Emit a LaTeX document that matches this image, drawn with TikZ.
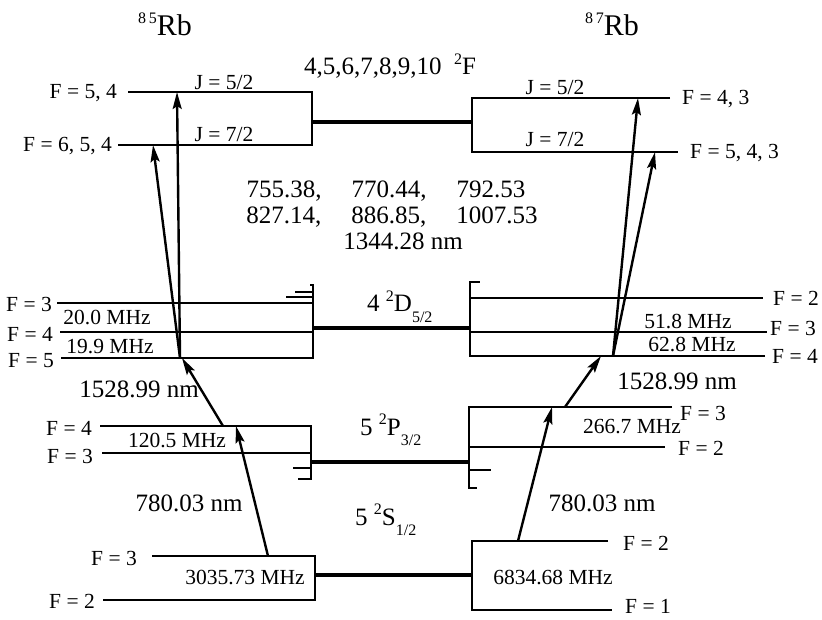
\documentclass[tikz,border=0pt]{standalone}
\usepackage{fontspec}
\setmainfont{Liberation Serif}
\usetikzlibrary{arrows.meta}
\newcommand{\supr}[1]{\raisebox{0.42em}{\fontsize{16}{16}\selectfont #1}}
\newcommand{\subr}[1]{\raisebox{-0.42em}{\fontsize{16}{16}\selectfont #1}}
\begin{document}
\begin{tikzpicture}[x=1pt,y=-1pt,
  lvl/.style={line width=1.4pt},
  thk/.style={line width=3.6pt},
  exc/.style={line width=2.4pt,-{Stealth[length=17pt,width=9pt,inset=3pt]}},
  sm/.style={font=\fontsize{21.5}{24}\selectfont, inner sep=1pt},
  lg/.style={font=\fontsize{25}{28}\selectfont, inner sep=1pt},
  ttl/.style={font=\fontsize{30}{32}\selectfont, inner sep=0pt}]
\useasboundingbox[fill=white] (0,0) rectangle (822,620);

% titles
\node[ttl,anchor=base] (t85) at (165,36) {\supr{8\,5}Rb};
\node[ttl,anchor=base] (t87) at (612,36) {\supr{8\,7}Rb};

% ---------- F levels ----------
\coordinate (a52L) at (128,92);  \coordinate (a52R) at (312,92);
\coordinate (a72L) at (118,145); \coordinate (a72R) at (312,145);
\coordinate (fL) at (312,122);   \coordinate (fR) at (472,122);
\coordinate (b52L) at (472,98);  \coordinate (b52R) at (670,98);
\coordinate (b72L) at (472,152); \coordinate (b72R) at (678,152);
\draw[lvl] (a52L) -- (a52R) -- (a72R) -- (a72L);
\draw[lvl] (b52R) -- (b52L) -- (b72L) -- (b72R);
\draw[thk] (fL) -- (fR);
\node[sm,anchor=east] (la54) at (118,93) {F = 5, 4};
\node[sm,anchor=east] (la654) at (113,146) {F = 6, 5, 4};
\node[sm] (ja52) at (224,82) {J = 5/2};
\node[sm] (ja72) at (224,134) {J = 7/2};
\node[sm,anchor=west] (lb43) at (681,99) {F = 4, 3};
\node[sm,anchor=west] (lb543) at (689,153) {F = 5, 4, 3};
\node[sm] (jb52) at (555,87) {J = 5/2};
\node[sm] (jb72) at (555,139) {J = 7/2};
\node[lg,anchor=base] (fname) at (390,75) {4,5,6,7,8,9,10\hspace{0.5em}\supr{2}F};

% wavelengths
\node[lg,anchor=base] (w1) at (386,198) {755.38,\hspace{1.2em}770.44,\hspace{1.2em}792.53};
\node[lg,anchor=base] (w2) at (392,224) {827.14,\hspace{1.2em}886.85,\hspace{1.2em}1007.53};
\node[lg,anchor=base] (w3) at (403,250) {1344.28 nm};

% ---------- 4 2D5/2 ----------
\coordinate (d3L) at (57,303);  \coordinate (d3R) at (313,303);
\coordinate (d4L) at (60,332);  \coordinate (d4R) at (313,332);
\coordinate (d5L) at (61,358);  \coordinate (d5R) at (313,358);
\coordinate (dTop) at (313,285);
\draw[lvl] (d3L) -- (d3R);
\draw[lvl] (d4L) -- (d4R);
\draw[lvl] (d5L) -- (d5R) -- (dTop) -- ++(-3,0);
\draw[lvl] (295,292) -- (313,292);
\draw[lvl] (286,297) -- (313,297);
\coordinate (e2L) at (470,298); \coordinate (e2R) at (763,298);
\coordinate (e3L) at (470,332); \coordinate (e3R) at (767,332);
\coordinate (e4L) at (470,356); \coordinate (e4R) at (765,356);
\coordinate (eTop) at (470,282);
\draw[lvl] (e2L) -- (e2R);
\draw[lvl] (e3L) -- (e3R);
\draw[lvl] (e4R) -- (e4L) -- (eTop) -- ++(10,0);
\coordinate (dThL) at (313,328); \coordinate (dThR) at (470,328);
\draw[thk] (dThL) -- (dThR);
\node[sm,anchor=east] (ld3) at (53,304) {F = 3};
\node[sm,anchor=east] (ld4) at (54,334) {F = 4};
\node[sm,anchor=east] (ld5) at (55,361) {F = 5};
\node[sm] (md1) at (107,318) {20.0 MHz};
\node[sm] (md2) at (110,347) {19.9 MHz};
\node[sm,anchor=west] (le2) at (772,298) {F = 2};
\node[sm,anchor=west] (le3) at (769,328) {F = 3};
\node[sm,anchor=west] (le4) at (771,356) {F = 4};
\node[sm] (me1) at (688,322) {51.8 MHz};
\node[sm] (me2) at (692,345) {62.8 MHz};
\node[lg,anchor=base west] (dname) at (366,312) {4 \supr{2}D\subr{5/2}};

% ---------- 5 2P3/2 ----------
\coordinate (p4L) at (100,426); \coordinate (p4R) at (311,426);
\coordinate (p3L) at (102,453); \coordinate (p3R) at (311,453);
\coordinate (pBot) at (311,479);
\draw[lvl] (p4L) -- (p4R) -- (pBot) -- (298,479);
\draw[lvl] (p3L) -- (p3R);
\draw[lvl] (293,468) -- (311,468);
\coordinate (q3L) at (469,407); \coordinate (q3R) at (672,407);
\coordinate (q2L) at (469,447); \coordinate (q2R) at (665,447);
\coordinate (qBot) at (469,488);
\draw[lvl] (q3R) -- (q3L) -- (qBot) -- ++(8,0);
\draw[lvl] (q2L) -- (q2R);
\draw[lvl] (469,470) -- (491,470);
\coordinate (pThL) at (311,462); \coordinate (pThR) at (469,462);
\draw[thk] (pThL) -- (pThR);
\node[sm,anchor=east] (lp4) at (93,428) {F = 4};
\node[sm,anchor=east] (lp3) at (94,456) {F = 3};
\node[sm] (mp) at (177,441) {120.5 MHz};
\node[sm,anchor=west] (lq3) at (679,413) {F = 3};
\node[sm,anchor=west] (lq2) at (677,448) {F = 2};
\node[sm] (mq) at (632,427) {266.7 MHz};
\node[lg,anchor=base west] (pname) at (359,435) {5 \supr{2}P\subr{3/2}};

% ---------- 5 2S1/2 ----------
\coordinate (s3L) at (152,556); \coordinate (s3R) at (315,556);
\coordinate (s2L) at (103,600); \coordinate (s2R) at (315,600);
\draw[lvl] (s3L) -- (s3R) -- (s2R) -- (s2L);
\coordinate (r2L) at (472,541); \coordinate (r2R) at (608,541);
\coordinate (r1L) at (472,610); \coordinate (r1R) at (612,610);
\draw[lvl] (r2R) -- (r2L) -- (r1L) -- (r1R);
\coordinate (sThL) at (315,575); \coordinate (sThR) at (472,575);
\draw[thk] (sThL) -- (sThR);
\node[sm,anchor=east] (ls3) at (138,558) {F = 3};
\node[sm,anchor=east] (ls2) at (96,601) {F = 2};
\node[sm] (ms) at (245,578) {3035.73 MHz};
\node[sm,anchor=west] (lr2) at (622,543) {F = 2};
\node[sm,anchor=west] (lr1) at (624,606) {F = 1};
\node[sm] (mr) at (553,577) {6834.68 MHz};
\node[lg,anchor=base west] (sname) at (354,525) {5 \supr{2}S\subr{1/2}};

% ---------- transitions ----------
\coordinate (A1s) at (268,556); \coordinate (A1e) at (236,426);
\coordinate (A2s) at (223,426); \coordinate (A2e) at (182,358);
\coordinate (A3s) at (180,358); \coordinate (A3e) at (177,92);
\coordinate (A4e) at (153,145);
\draw[exc] (A1s) -- (A1e);
\draw[exc] (A2s) -- (A2e);
\draw[exc] (A3s) -- (A3e);
\draw[exc] (A3s) -- (A4e);
\coordinate (B1s) at (518,541); \coordinate (B1e) at (552,407);
\coordinate (B2s) at (565,407); \coordinate (B2e) at (601,356);
\coordinate (B3s) at (613,356); \coordinate (B3e) at (638,98);
\coordinate (B4e) at (655,152);
\draw[exc] (B1s) -- (B1e);
\draw[exc] (B2s) -- (B2e);
\draw[exc] (B3s) -- (B3e);
\draw[exc] (B3s) -- (B4e);

\node[lg,anchor=base] (wl1) at (139,397) {1528.99 nm};
\node[lg,anchor=base] (wl2) at (189,511) {780.03 nm};
\node[lg,anchor=base] (wr1) at (677,389) {1528.99 nm};
\node[lg,anchor=base] (wr2) at (602,511) {780.03 nm};
\end{tikzpicture}
\end{document}
